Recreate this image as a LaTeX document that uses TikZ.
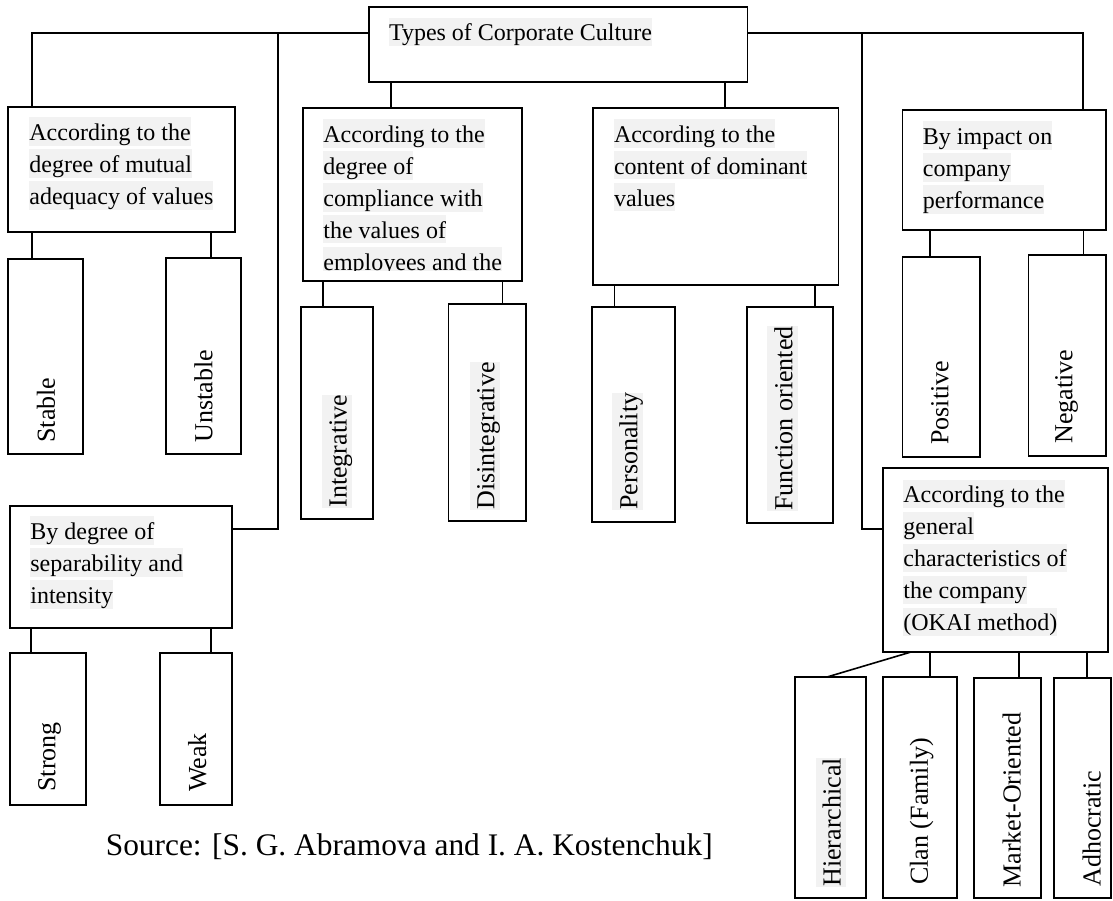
\documentclass[tikz,border=0pt]{standalone}
\usepackage{fontspec}
\setmainfont{Liberation Serif}
\usepackage{tikz}
\usetikzlibrary{fit}
\definecolor{hlgray}{HTML}{F2F2F2}
\newcommand{\hlt}[1]{{\setlength{\fboxsep}{0pt}\colorbox{hlgray}{\rule[-0.21em]{0pt}{1.17em}#1}}}
\tikzset{
  box/.style            = { rectangle, inner sep=0pt, outer sep=0pt },
  border/.style         = { thick, draw=black },
  link/.style           = { thick, draw=black },
}
\tikzset{
  category/.style={
    box,
    border
  },
  leaf/.style           = { box, border },
  cattext/.style        = { anchor=north west, inner sep=0pt, align=left, font=\fontsize{12}{16}\selectfont },
  leaflabel/.style      = { rotate=90, anchor=west, inner sep=0pt, font=\fontsize{13}{16}\selectfont },
  source/.style         = { anchor=base west, inner sep=0pt, font=\fontsize{15.7}{19}\selectfont }
}

\begin{document}
\begin{tikzpicture}[x=0.5pt, y=-0.5pt]
  \useasboundingbox (0,0) rectangle (1113,900);

  % top level
  \node (types)        [category, fit={(369,7) (747.5,82)}] {};
  \node (typestext)    [cattext] at (388.6,17.3) {\hlt{Types of Corporate Culture}};

  % categories
  \node (adequacy)     [category, fit={(8,107) (235,232)}] {};
  \node (compliance)   [category, fit={(303,108) (522,281)}] {};
  \node (content)      [category, fit={(593,108) (838.5,285)}] {};
  \node (impact)       [category, fit={(902.5,110) (1106,230)}] {};
  \node (separability) [category, fit={(10,506) (232,628)}] {};
  \node (general)      [category, fit={(883,468) (1108,652)}] {};

  \node (adequacytext) [cattext] at (29,117)
    {\hlt{According to the}\\\hlt{degree of mutual}\\\hlt{adequacy of values}};
  \begin{scope}
    \clip (303,108) rectangle (522,270.5);
    \node (compliancetext) [cattext] at (323,119)
      {\hlt{According to the}\\\hlt{degree of}\\\hlt{compliance with}\\\hlt{the values of}\\\hlt{employees and the}};
  \end{scope}
  \node (contenttext)  [cattext] at (613.6,119)
    {\hlt{According to the}\\\hlt{content of dominant}\\\hlt{values}};
  \node (impacttext)   [cattext] at (922.5,121)
    {\hlt{By impact on}\\\hlt{company}\\\hlt{performance}};
  \node (separabilitytext) [cattext] at (30,516)
    {\hlt{By degree of}\\\hlt{separability and}\\\hlt{intensity}};
  \node (generaltext)  [cattext] at (903,479.3)
    {\hlt{According to the}\\\hlt{general}\\\hlt{characteristics of}\\\hlt{the company}\\\hlt{(OKAI method)}};

  % leaves
  \node (stable)         [leaf, fit={(8,259) (83,454)}] {};
  \node (unstable)       [leaf, fit={(166,258) (241,454)}] {};
  \node (integrative)    [leaf, fit={(301,307) (373,519)}] {};
  \node (disintegrative) [leaf, fit={(448.6,304) (525.7,521)}] {};
  \node (personality)    [leaf, fit={(592,307) (675,522)}] {};
  \node (functional)     [leaf, fit={(747,307) (833,523)}] {};
  \node (positive)       [leaf, fit={(902.5,257) (980,457)}] {};
  \node (negative)       [leaf, fit={(1028.6,255) (1106,456)}] {};
  \node (strong)         [leaf, fit={(10,653) (86,805)}] {};
  \node (weak)           [leaf, fit={(160,653) (232,805)}] {};
  \node (hierarchical)   [leaf, fit={(795,677) (866,898)}] {};
  \node (clan)           [leaf, fit={(883,677) (957,898)}] {};
  \node (market)         [leaf, fit={(974,678) (1041,898)}] {};
  \node (adhocratic)     [leaf, fit={(1054,678) (1111,898)}] {};

  \node (stablelabel)         [leaflabel] at (46,443)      {Stable};
  \node (unstablelabel)       [leaflabel] at (203.6,443)   {Unstable};
  \node (integrativelabel)    [leaflabel] at (337,508)     {\hlt{Integrative}};
  \node (disintegrativelabel) [leaflabel] at (484.8,510)   {\hlt{Disintegrative}};
  \node (personalitylabel)    [leaflabel] at (627.7,510)   {\hlt{Personality}};
  \node (functionallabel)     [leaflabel] at (782.5,511)   {\hlt{Function oriented}};
  \node (positivelabel)       [leaflabel] at (940,445)     {Positive};
  \node (negativelabel)       [leaflabel] at (1066.6,444)  {Negative};
  \node (stronglabel)         [leaflabel] at (49.6,792)    {Strong};
  \node (weaklabel)           [leaflabel] at (197.3,792)   {Weak};
  \node (hierarchicallabel)   [leaflabel] at (830.8,887)   {\hlt{Hierarchical}};
  \node (clanlabel)           [leaflabel] at (921.7,885)   {Clan (Family)};
  \node (marketlabel)         [leaflabel] at (1011.7,888)  {Market-Oriented};
  \node (adhocraticlabel)     [leaflabel] at (1091.7,887)  {Adhocratic};

  \node (sourcetext) [source] at (105.4,855) {Source: [S. G. Abramova and I. A. Kostenchuk]};

  % connectors from the top
  \coordinate (leftdrop)  at (278,33);
  \coordinate (rightdrop) at (862,33);
  \draw [link] ([yshift=5.75pt]types.west) -| ([xshift=12pt]adequacy.north west);
  \draw [link] (leftdrop) |- ([yshift=19pt]separability.east);
  \draw [link] ([xshift=11pt]types.south west) -- ([xshift=11pt]types.south west |- compliance.north);
  \draw [link] ([xshift=-11.25pt]types.south east) -- ([xshift=-11.25pt]types.south east |- content.north);
  \draw [link] ([yshift=5.75pt]types.east) -| ([xshift=-11.5pt]impact.north east);
  \draw [link] (rightdrop) |- ([yshift=15.5pt]general.west);

  % connectors to the leaves
  \draw [link] ([xshift=12pt]adequacy.south west) -- ([xshift=12pt]adequacy.south west |- stable.north);
  \draw [link] ([xshift=-12pt]adequacy.south east) -- ([xshift=-12pt]adequacy.south east |- unstable.north);
  \draw [link] ([xshift=10pt]compliance.south west) -- ([xshift=10pt]compliance.south west |- integrative.north);
  \draw [link] ([xshift=-9.75pt]compliance.south east) -- ([xshift=-9.75pt]compliance.south east |- disintegrative.north);
  \draw [link] ([xshift=10.8pt]content.south west) -- ([xshift=10.8pt]content.south west |- personality.north);
  \draw [link] ([xshift=-11.75pt]content.south east) -- ([xshift=-11.75pt]content.south east |- functional.north);
  \draw [link] ([xshift=13.75pt]impact.south west) -- ([xshift=13.75pt]impact.south west |- positive.north);
  \draw [link] ([xshift=-11.2pt]impact.south east) -- ([xshift=-11.2pt]impact.south east |- negative.north);
  \draw [link] ([xshift=10.5pt]separability.south west) -- ([xshift=10.5pt]separability.south west |- strong.north);
  \draw [link] ([xshift=-10.5pt]separability.south east) -- ([xshift=-10.5pt]separability.south east |- weak.north);
  \draw [link] ([xshift=14pt]general.south west) -- ([xshift=16pt]hierarchical.north west);
  \draw [link] ([xshift=23.5pt]general.south west) -- ([xshift=23.5pt]general.south west |- clan.north);
  \draw [link] ([xshift=-44.5pt]general.south east) -- ([xshift=-44.5pt]general.south east |- market.north);
  \draw [link] ([xshift=-10.5pt]general.south east) -- ([xshift=-10.5pt]general.south east |- adhocratic.north);
\end{tikzpicture}
\end{document}
